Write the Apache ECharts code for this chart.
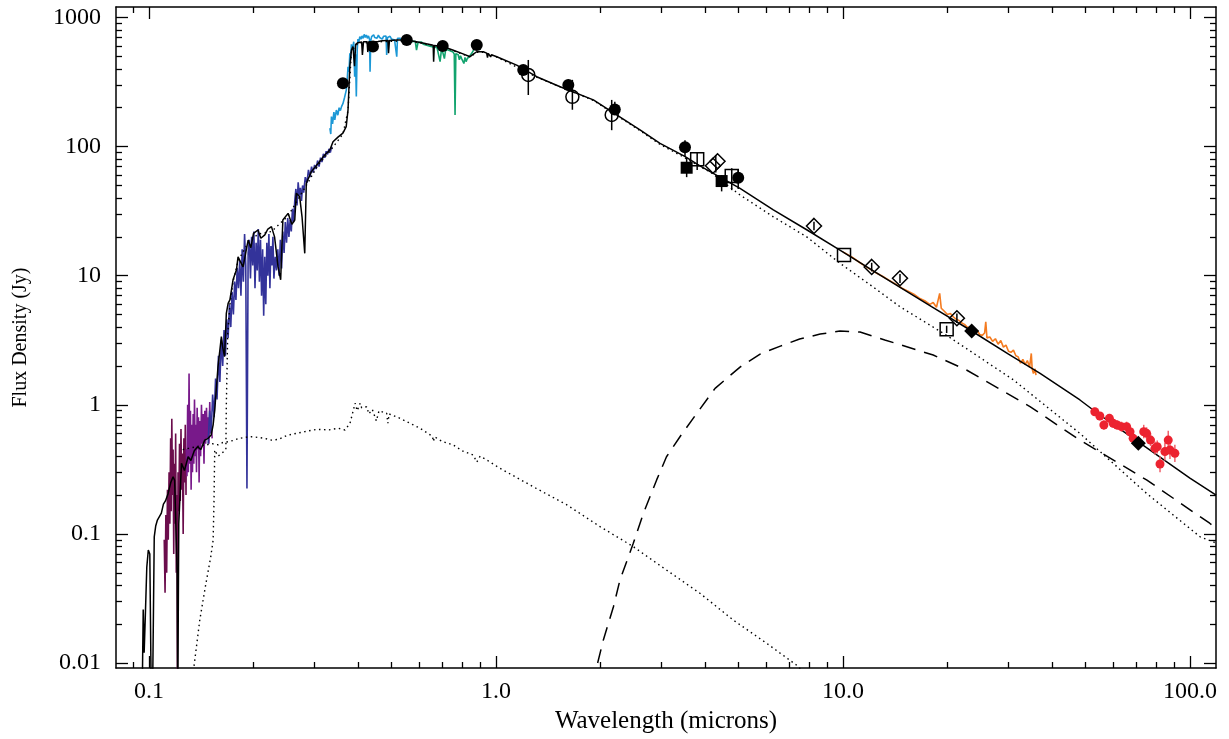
<!DOCTYPE html>
<html>
<head>
<meta charset="utf-8">
<title>SED</title>
<script src="https://cdn.jsdelivr.net/npm/echarts@6/dist/echarts.min.js"></script>
<style>
    html, body { margin: 0; padding: 0; background: #fff; }
    #sed { width: 1229px; height: 739px; }
</style>
</head>
<body>
<div id="sed"></div>
<script>
/*1. axis ranges and tick marks*/
var xRange = [0.0803, 118.9];
var yRange = [0.00915, 1206];
var xTickValues = [0.1, 1, 10, 100];
var xTickLabels = ['0.1', '1.0', '10.0', '100.0'];
var yTickValues = [0.01, 0.1, 1, 10, 100, 1000];
var yTickLabels = ['0.01', '0.1', '1', '10', '100', '1000'];
var xMinorTicks = [0.09, 0.2, 0.3, 0.4, 0.5, 0.6, 0.7, 0.8, 0.9, 2, 3, 4, 5, 6, 7, 8, 9, 20, 30, 40, 50, 60, 70, 80, 90];
var yMinorTicks = [0.02, 0.03, 0.04, 0.05, 0.06, 0.07, 0.08, 0.09, 0.2, 0.3, 0.4, 0.5, 0.6, 0.7, 0.8, 0.9,
    2, 3, 4, 5, 6, 7, 8, 9, 20, 30, 40, 50, 60, 70, 80, 90, 200, 300, 400, 500, 600, 700, 800, 900];

/*2. models: [wavelength (micron), flux (Jy)]*/
var modelTotal = [
    [0.0955, 0.005], [0.0962, 0.026], [0.0968, 0.012], [0.0975, 0.022], [0.0985, 0.055], [0.0995, 0.075], [0.1005, 0.07],
    [0.1015, 0.005], [0.1025, 0.008], [0.1035, 0.095], [0.1045, 0.115], [0.1057, 0.128], [0.107, 0.13], [0.1085, 0.145],
    [0.11, 0.17], [0.1115, 0.18], [0.1135, 0.206], [0.1155, 0.25], [0.1173, 0.277], [0.1185, 0.26], [0.1199, 0.26],
    [0.1205, 0.05], [0.121, 0.005], [0.1218, 0.12], [0.124, 0.352], [0.1265, 0.31], [0.1296, 0.396], [0.132, 0.37],
    [0.135, 0.44], [0.138, 0.473], [0.141, 0.45], [0.1447, 0.533], [0.148, 0.55], [0.151, 0.583], [0.153, 0.7],
    [0.1546, 0.91], [0.1565, 1.4], [0.158, 1.97], [0.1616, 3.37], [0.163, 2.8], [0.165, 2.36], [0.167, 5.1], [0.169, 6.1],
    [0.171, 6.5], [0.1746, 9.3], [0.1786, 11.1], [0.1805, 14.0], [0.1866, 11.7], [0.193, 18.9], [0.1965, 16.5], [0.2, 21.3],
    [0.206, 22.6], [0.21, 19.5], [0.2156, 20.7], [0.22, 23], [0.2253, 24.0], [0.23, 20], [0.2354, 11.7], [0.2395, 9.3],
    [0.243, 27], [0.2516, 30.4], [0.258, 25], [0.263, 27], [0.2657, 43.5], [0.2717, 41], [0.276, 28.6], [0.281, 14.9],
    [0.2839, 52], [0.2937, 64], [0.307, 74], [0.321, 86], [0.332, 94], [0.339, 109], [0.351, 119], [0.362, 127], [0.37, 143],
    [0.3745, 192], [0.379, 416], [0.383, 560], [0.387, 595], [0.391, 420], [0.394, 620], [0.4, 638], [0.41, 645], [0.412, 512],
    [0.415, 648], [0.425, 650], [0.427, 540], [0.43, 650], [0.443, 650], [0.457, 652], [0.47, 660], [0.488, 665], [0.49, 530],
    [0.493, 665], [0.52, 668], [0.553, 670], [0.59, 650], [0.63, 625], [0.659, 610], [0.661, 455], [0.664, 608], [0.705, 595],
    [0.75, 560], [0.8, 525], [0.842, 497], [0.86, 520], [0.88, 543], [0.919, 543], [0.94, 530], [0.945, 490], [0.95, 528],
    [0.96, 520], [0.965, 495], [0.97, 515], [1.005, 497], [1.147, 428], [1.31, 348], [1.53, 291], [1.908, 230], [2.227, 176],
    [2.6, 134.6], [2.97, 106], [3.5, 84], [3.87, 70.8], [5.05, 47.5], [6.3, 32.4], [7.86, 22.7], [9.8, 15.8], [12.8, 10.1],
    [18, 5.76], [23.5, 3.73], [30, 2.47], [37, 1.75], [48.2, 1.09], [55, 0.834], [70, 0.53], [100, 0.271], [119, 0.2]
];
var modelStar = [
    [0.1348, 0.0095], [0.14, 0.0215], [0.1453, 0.039], [0.1506, 0.0665], [0.153, 0.0897], [0.1539, 0.183], [0.1546, 0.447],
    [0.158, 0.4], [0.162, 0.42], [0.1665, 0.45], [0.167, 1.0], [0.1685, 3.5], [0.171, 6.0], [0.1746, 9.0], [0.1805, 13],
    [0.193, 18], [0.206, 21], [0.2253, 22], [0.2516, 29], [0.2839, 50], [0.307, 72], [0.332, 92], [0.362, 125], [0.3745, 190],
    [0.383, 550], [0.4, 630], [0.47, 650], [0.553, 660], [0.705, 590], [0.842, 495], [0.88, 538], [0.919, 538], [1.005, 494],
    [1.31, 345], [1.908, 228], [2.6, 133], [2.97, 104], [3.5, 82], [4.2, 62], [5.05, 42.2], [6.3, 28.6], [7.86, 20],
    [9.8, 12.5], [12.2, 8.2], [14.6, 5.75], [19.9, 3.45], [31, 1.56], [48.2, 0.6], [75, 0.206], [107, 0.095], [119, 0.085]
];
var modelHot = [
    [0.125, 0.45], [0.13, 0.46], [0.135, 0.47], [0.14, 0.48], [0.146, 0.489], [0.152, 0.5], [0.158, 0.49], [0.163, 0.51],
    [0.169, 0.518], [0.175, 0.53], [0.182, 0.55], [0.19, 0.56], [0.197, 0.566], [0.205, 0.56], [0.215, 0.55], [0.2255, 0.533],
    [0.236, 0.54], [0.25, 0.58], [0.265, 0.6], [0.281, 0.62], [0.304, 0.645], [0.33, 0.64], [0.351, 0.658], [0.367, 0.638],
    [0.3795, 0.72], [0.3925, 1.03], [0.398, 0.9], [0.406, 1.03], [0.41, 0.95], [0.424, 0.967], [0.43, 0.85], [0.44, 0.92],
    [0.452, 0.75], [0.46, 0.9], [0.484, 0.86], [0.488, 0.72], [0.492, 0.85], [0.529, 0.786], [0.604, 0.658], [0.656, 0.57],
    [0.66, 0.52], [0.665, 0.565], [0.70, 0.52], [0.753, 0.489], [0.80, 0.44], [0.86, 0.408], [0.88, 0.36], [0.90, 0.40],
    [0.94, 0.374], [1.027, 0.322], [1.28, 0.232], [1.60, 0.168], [1.994, 0.114], [2.487, 0.0797], [3.10, 0.0525],
    [3.87, 0.0347], [4.83, 0.0215], [6.03, 0.0142], [7.36, 0.0096], [7.6, 0.0088]
];
var modelDust = [
    [1.963, 0.01], [2.039, 0.0151], [2.18, 0.0273], [2.277, 0.044], [2.487, 0.0845], [2.66, 0.1445], [2.904, 0.262],
    [3.10, 0.396], [3.39, 0.566], [3.79, 0.859], [4.28, 1.34], [5.05, 1.96], [5.77, 2.47], [6.6, 2.85], [7.5, 3.23],
    [8.6, 3.53], [9.8, 3.73], [11.2, 3.66], [13.2, 3.18], [18.2, 2.43], [22.7, 1.86], [34.6, 0.967], [48.2, 0.533],
    [75, 0.262], [114, 0.121], [119, 0.11]
];

/*3. spectra*/
var uvShort = [
    [0.1106, 0.09], [0.1112, 0.035], [0.1118, 0.14], [0.1124, 0.05], [0.113, 0.22], [0.1136, 0.09], [0.1142, 0.3],
    [0.1148, 0.12], [0.1154, 0.55], [0.1158, 0.15], [0.1163, 0.78], [0.1168, 0.2], [0.1173, 0.45], [0.1178, 0.07],
    [0.1183, 0.35], [0.1188, 0.12], [0.1193, 0.6], [0.1198, 0.05], [0.1203, 0.2], [0.1207, 0.008], [0.1212, 0.3],
    [0.1218, 0.15], [0.1224, 0.5], [0.123, 0.18], [0.1236, 0.65], [0.1242, 0.22], [0.1248, 0.42], [0.1254, 0.1],
    [0.126, 0.55], [0.1266, 0.25], [0.1272, 0.7], [0.1278, 0.2], [0.128, 0.45]
];
var uvLong = [
    [0.128, 0.45], [0.1286, 0.28], [0.1292, 1.0], [0.1298, 0.3], [0.1304, 1.75], [0.131, 0.35], [0.1316, 0.9], [0.1322, 0.22],
    [0.1328, 0.7], [0.1334, 0.3], [0.134, 0.85], [0.1346, 0.35], [0.1352, 1.1], [0.1358, 0.4], [0.1364, 0.7], [0.137, 0.3],
    [0.1376, 0.95], [0.1382, 0.45], [0.1388, 0.8], [0.1394, 0.25], [0.14, 0.75], [0.1408, 0.4], [0.1416, 1.0], [0.1424, 0.5],
    [0.1432, 0.85], [0.144, 0.35], [0.1448, 0.9], [0.1456, 0.5], [0.1464, 0.95], [0.1472, 0.55], [0.148, 0.8], [0.1488, 0.5],
    [0.1496, 1.05], [0.1504, 0.6], [0.1512, 0.7], [0.152, 0.55]
];
var nuvSpectrum = [
    [0.148, 0.5], [0.1495, 0.9], [0.151, 0.6], [0.1525, 1.2], [0.154, 0.8], [0.1555, 1.6], [0.157, 1.1], [0.1585, 2.4],
    [0.16, 1.5], [0.1615, 3.2], [0.163, 2.0], [0.1645, 3.8], [0.166, 2.4], [0.1675, 4.6], [0.169, 3.3], [0.1705, 6.0],
    [0.172, 4.0], [0.1735, 7.5], [0.175, 5.0], [0.1765, 9.0], [0.178, 6.5], [0.1795, 11.5], [0.181, 8.0], [0.1825, 13.0],
    [0.184, 7.0], [0.1855, 16.0], [0.187, 9.0], [0.1885, 21.0], [0.19, 12.0], [0.1915, 0.225], [0.193, 15.0], [0.1945, 19.0],
    [0.196, 9.5], [0.1975, 20.0], [0.199, 12.0], [0.2005, 22.0], [0.202, 8.0], [0.2035, 18.0], [0.205, 11.0], [0.2065, 23.0],
    [0.208, 9.0], [0.2095, 19.0], [0.211, 7.0], [0.2125, 16.0], [0.214, 4.9], [0.2155, 14.0], [0.217, 6.0], [0.2185, 18.0],
    [0.22, 10.0], [0.2215, 21.0], [0.223, 8.0], [0.2245, 17.0], [0.226, 12.0], [0.2275, 20.0], [0.229, 9.5], [0.231, 14.0],
    [0.233, 11.0], [0.235, 16.0], [0.237, 10.0], [0.239, 19.0], [0.241, 11.4], [0.243, 22.0], [0.245, 15.0], [0.247, 26.0],
    [0.249, 18.0], [0.251, 28.0], [0.253, 20.0], [0.255, 27.0], [0.257, 22.0], [0.259, 33.0], [0.261, 26.0], [0.263, 38.0],
    [0.265, 47.0], [0.267, 35.0], [0.269, 53.0], [0.271, 42.0], [0.273, 48.0], [0.275, 38.0], [0.277, 50.0], [0.279, 44.0],
    [0.282, 58.0], [0.285, 52.0], [0.288, 66.0], [0.291, 58.0], [0.294, 70.0], [0.297, 63.0], [0.3, 72.0], [0.303, 67.0],
    [0.306, 78.0], [0.309, 70.0], [0.312, 82.0], [0.315, 76.0], [0.318, 88.0], [0.321, 82.0], [0.324, 92.0], [0.327, 87.0],
    [0.33, 96.0], [0.333, 90.0], [0.336, 100.0]
];
var blueSpectrum = [
    [0.332, 139], [0.334, 125], [0.3355, 171], [0.338, 150], [0.341, 185], [0.343, 161], [0.3466, 192], [0.35, 175],
    [0.353, 200], [0.356, 190], [0.3587, 204], [0.362, 215], [0.366, 240], [0.3702, 274], [0.3725, 330], [0.3745, 416],
    [0.377, 380], [0.379, 528], [0.381, 470], [0.383, 620], [0.385, 560], [0.387, 595], [0.389, 650], [0.3914, 348],
    [0.3935, 520], [0.3957, 244], [0.398, 560], [0.4, 680], [0.402, 640], [0.405, 710], [0.408, 680], [0.411, 720],
    [0.414, 690], [0.417, 740], [0.42, 700], [0.423, 731], [0.426, 690], [0.429, 720], [0.432, 680], [0.4335, 380],
    [0.4355, 660], [0.438, 710], [0.441, 690], [0.444, 735], [0.447, 700], [0.45, 720], [0.454, 690], [0.458, 730],
    [0.462, 700], [0.466, 725], [0.47, 680], [0.474, 715], [0.478, 690], [0.482, 720], [0.484, 512], [0.487, 700],
    [0.491, 690], [0.495, 715], [0.5, 680], [0.505, 700], [0.51, 670], [0.5175, 497], [0.52, 690], [0.525, 670],
    [0.53, 690], [0.535, 660], [0.54, 675], [0.545, 655], [0.55, 670], [0.555, 650], [0.56, 660], [0.566, 645], [0.572, 655]
];
var greenSpectrum = [
    [0.572, 650], [0.578, 640], [0.585, 655], [0.59, 560], [0.596, 640], [0.603, 630], [0.61, 645], [0.617, 620],
    [0.624, 630], [0.631, 610], [0.638, 625], [0.645, 600], [0.652, 615], [0.66, 590], [0.668, 605], [0.676, 585],
    [0.684, 595], [0.69, 455], [0.697, 580], [0.704, 570], [0.71, 480], [0.716, 565], [0.722, 555], [0.728, 560],
    [0.734, 545], [0.74, 550], [0.746, 535], [0.752, 540], [0.758, 520], [0.762, 176], [0.766, 525], [0.772, 510],
    [0.778, 515], [0.784, 470], [0.79, 505], [0.796, 480], [0.802, 495], [0.808, 440], [0.814, 490], [0.82, 455],
    [0.826, 480], [0.832, 470], [0.838, 500], [0.845, 485], [0.852, 530], [0.86, 545], [0.868, 580], [0.876, 600],
    [0.884, 590], [0.892, 570], [0.9, 560]
];
var irsSpectrum = [
    [10.0, 15.3], [10.6, 14.0], [11.2, 12.6], [11.8, 11.5], [12.4, 10.6], [13.0, 9.9], [13.6, 9.2], [14.2, 8.6], [14.8, 8.0],
    [15.4, 7.6], [16.0, 7.2], [16.6, 6.7], [17.2, 6.4], [17.8, 6.0], [18.2, 6.2], [18.6, 5.7], [19.0, 7.3], [19.2, 5.6],
    [19.6, 5.3], [20.0, 5.0], [20.4, 5.1], [20.8, 4.8], [21.2, 4.6], [21.6, 4.5], [22.0, 4.3], [22.4, 4.2], [22.8, 4.0],
    [23.2, 3.95], [23.6, 3.85], [24.0, 3.7], [24.4, 3.75], [24.8, 3.5], [25.2, 3.45], [25.6, 3.6], [25.8, 4.4], [26.0, 3.3],
    [26.5, 3.35], [27.0, 3.1], [27.5, 3.25], [28.0, 2.95], [28.5, 3.15], [29.0, 2.8], [29.5, 2.9], [30.0, 2.6], [30.5, 2.55],
    [31.0, 2.65], [31.5, 2.4], [32.0, 2.35], [32.5, 2.1], [33.0, 2.25], [33.5, 2.05], [34.0, 2.2], [34.5, 1.95], [34.9, 2.5],
    [35.1, 1.9], [35.4, 1.75], [35.8, 1.9], [36.0, 1.7]
];

/*4. far-IR spectrum points with errors*/
var mipsWave = [53.2, 55.0, 56.5, 58.6, 60.1, 61.7, 63.5, 65.7, 67.2, 68.6, 73.6, 75.0, 77.0, 79.3, 80.5, 82.0, 84.7, 86.6, 87.6, 90.5];
var mipsFlux = [0.884, 0.819, 0.697, 0.786, 0.719, 0.697, 0.677, 0.677, 0.619, 0.55, 0.619, 0.601, 0.533, 0.46, 0.473, 0.348, 0.434, 0.533, 0.447, 0.421];
var mipsLow = [0.82, 0.76, 0.64, 0.73, 0.66, 0.64, 0.62, 0.62, 0.56, 0.5, 0.55, 0.54, 0.48, 0.41, 0.42, 0.3, 0.37, 0.45, 0.38, 0.36];
var mipsHigh = [0.95, 0.88, 0.76, 0.85, 0.78, 0.76, 0.74, 0.74, 0.68, 0.61, 0.7, 0.67, 0.6, 0.52, 0.53, 0.4, 0.51, 0.63, 0.53, 0.49];

/*5. photometry*/
var filledCircleWave = [0.362, 0.442, 0.553, 0.702, 0.88, 1.198, 1.616, 2.2, 3.505, 4.99];
var filledCircleFlux = [309, 595, 670, 601, 612, 392, 300, 194, 98.7, 57.4];
var openCircleWave = [1.239, 1.66, 2.155];
var openCircleFlux = [359, 243, 176];
var filledSquareWave = [3.544, 4.47];
var filledSquareFlux = [68.6, 54.1];
var openSquareWave = [3.8, 4.78, 10.07, 19.9];
var openSquareFlux = [79.7, 59.2, 14.45, 3.85];
var openDiamondWave = [4.22, 4.35, 8.25, 12.1, 14.6, 21.3];
var openDiamondFlux = [71, 77, 24.3, 11.7, 9.55, 4.68];
var filledDiamondWave = [23.5, 71.0];
var filledDiamondFlux = [3.73, 0.503];
var errWave = [1.239, 1.66, 2.155, 2.2, 3.505, 3.544, 3.8, 4.3, 4.47, 4.78, 4.99, 0.88, 1.198, 1.616, 8.25, 12.1, 14.6, 19.9, 21.3];
var errLow = [251, 193, 134, 176, 83, 58, 66, 63, 45, 46, 47, 560, 370, 275, 22.5, 10.8, 8.8, 3.6, 4.3];
var errHigh = [469, 329, 230, 223, 112, 82, 91, 86, 60, 68, 66, 660, 420, 330, 26.2, 12.6, 10.3, 4.1, 5.1];

var serifFont = 'Liberation Serif';

var zip = function (a, b) {
    return a.map(function (v, i) { return [v, b[i]]; });
};
var nearestLabel = function (v, values, labels) {
    var best = 0;
    values.forEach(function (t, i) {
        if (Math.abs(Math.log10(t) - v) < Math.abs(Math.log10(values[best]) - v)) best = i;
    });
    return labels[best];
};

var lineSeries = function (data, color, width, dash, z) {
    return {
        type: 'line', data: data, symbol: 'none', showSymbol: false, clip: true, z: z,
        lineStyle: { color: color, width: width, type: dash || 'solid', cap: 'butt' }
    };
};
var pointSeries = function (data, symbol, size, filled, color) {
    return {
        type: 'scatter', data: data, symbol: symbol, symbolSize: size, z: 6,
        itemStyle: filled ? { color: color, opacity: 1 } :
            { color: 'rgba(255,255,255,0)', borderColor: color, borderWidth: 1.5, opacity: 1 }
    };
};
var errorSeries = function (wave, low, high, color, width) {
    return {
        type: 'custom', z: 5,
        data: wave.map(function (w, i) { return [w, low[i], high[i]]; }),
        encode: { x: 0, y: [1, 2] },
        renderItem: function (params, api) {
            var p1 = api.coord([api.value(0), api.value(1)]);
            var p2 = api.coord([api.value(0), api.value(2)]);
            return {
                type: 'line',
                shape: { x1: p1[0], y1: p1[1], x2: p2[0], y2: p2[1] },
                style: { stroke: color, lineWidth: width }
            };
        }
    };
};

/*6. axes: a hidden log axis carries the data, value axes in log10 space draw the box and ticks*/
var tickAxis = function (pos, isX, major) {
    var range = isX ? xRange : yRange;
    var ticks = (major ? (isX ? xTickValues : yTickValues) : (isX ? xMinorTicks : yMinorTicks)).map(Math.log10);
    var showLabel = major && (pos === 'bottom' || pos === 'left');
    var axis = {
        type: 'value', position: pos,
        min: Math.log10(range[0]), max: Math.log10(range[1]),
        splitLine: { show: false },
        axisLine: { show: major, onZero: false, lineStyle: { color: '#000', width: 1.5 } },
        axisTick: { show: true, inside: true, length: major ? 12 : 6, customValues: ticks, lineStyle: { color: '#000', width: 1.3 } },
        axisLabel: {
            show: showLabel, customValues: ticks, margin: isX ? 12 : 15,
            color: '#000', fontFamily: serifFont, fontSize: 24,
            formatter: function (v) {
                return isX ? nearestLabel(v, xTickValues, xTickLabels) : nearestLabel(v, yTickValues, yTickLabels);
            }
        }
    };
    if (showLabel) {
        axis.name = isX ? 'Wavelength (microns)' : 'Flux Density (Jy)';
        axis.nameLocation = 'middle';
        axis.nameGap = isX ? 39 : 85;
        axis.nameTextStyle = { color: '#000', fontFamily: serifFont, fontSize: isX ? 25 : 20 };
    }
    return axis;
};

var sedCharts = function () {
    var box = document.getElementById('sed');
    var myChart = echarts.init(box, null, { renderer: 'canvas' });
    var options = {
        animation: false,
        backgroundColor: '#fff',
        grid: { left: 116, right: 13, top: 7, bottom: 71, containLabel: false },
        xAxis: [
            { type: 'log', logBase: 10, min: xRange[0], max: xRange[1], show: false },
            tickAxis('bottom', true, true), tickAxis('bottom', true, false),
            tickAxis('top', true, true), tickAxis('top', true, false)
        ],
        yAxis: [
            { type: 'log', logBase: 10, min: yRange[0], max: yRange[1], show: false },
            tickAxis('left', false, true), tickAxis('left', false, false),
            tickAxis('right', false, true), tickAxis('right', false, false)
        ],
        series: [
            lineSeries(uvShort, '#6b0d4c', 1.6, null, 2),
            lineSeries(uvLong, '#78198a', 1.6, null, 2),
            lineSeries(nuvSpectrum, '#33339a', 1.6, null, 2),
            lineSeries(blueSpectrum, '#1c98d6', 1.6, null, 2),
            lineSeries(greenSpectrum, '#12a36e', 1.6, null, 2),
            lineSeries(irsSpectrum, '#f47b20', 1.6, null, 2),
            lineSeries(modelHot, '#000', 1.4, [1.5, 3.5], 2),
            lineSeries(modelStar, '#000', 1.4, [1.5, 3.5], 2),
            lineSeries(modelDust, '#000', 1.5, [14, 9], 2),
            lineSeries(modelTotal, '#000', 1.5, null, 3),
            errorSeries(mipsWave, mipsLow, mipsHigh, '#f0606a', 1.5),
            pointSeries(zip(mipsWave, mipsFlux), 'circle', 9, true, '#ec2330'),
            errorSeries(errWave, errLow, errHigh, '#000', 1.5),
            pointSeries(zip(filledCircleWave, filledCircleFlux), 'circle', 12, true, '#000'),
            pointSeries(zip(openCircleWave, openCircleFlux), 'circle', 13, false, '#000'),
            pointSeries(zip(filledSquareWave, filledSquareFlux), 'rect', 12, true, '#000'),
            pointSeries(zip(openSquareWave, openSquareFlux), 'rect', 13, false, '#000'),
            pointSeries(zip(openDiamondWave, openDiamondFlux), 'diamond', 15, false, '#000'),
            pointSeries(zip(filledDiamondWave, filledDiamondFlux), 'diamond', 15, true, '#000')
        ]
    };
    myChart.setOption(options);
};
sedCharts();
</script>
</body>
</html>
